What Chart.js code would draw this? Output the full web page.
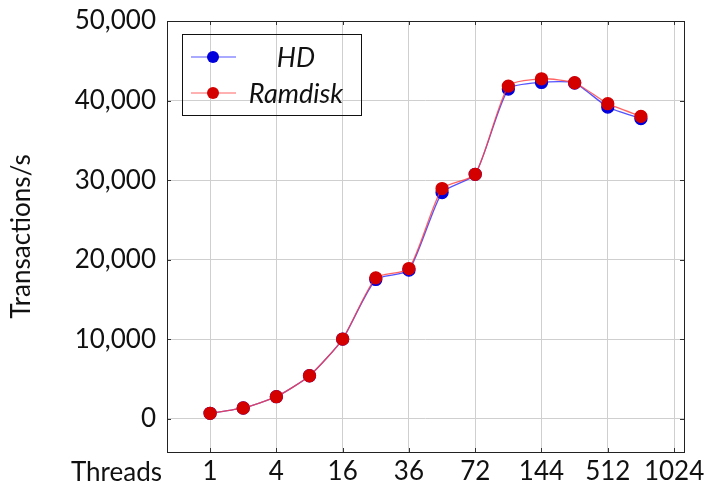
<!DOCTYPE html>
<html>
<head>
<meta charset="utf-8">
<script src="https://cdn.jsdelivr.net/npm/chart.js@4.4.0/dist/chart.umd.min.js"></script>
<style>
  html, body { margin: 0; padding: 0; background: #fff; }
  #wrap { width: 706px; height: 485px; }
</style>
</head>
<body>
<div id="wrap"><canvas id="chart"></canvas></div>
<script>
// point positions along the x axis (index), labels only on every other one
const pointPos = [0, 1, 2, 3, 4, 5, 6, 7, 8, 9, 10, 11, 12, 13];
const tickPos = [0, 2, 4, 6, 8, 10, 12, 14];
const tickLabels = ["1", "4", "16", "36", "72", "144", "512", "1024"];
const yTicks = [0, 10000, 20000, 30000, 40000, 50000];

const hdValues = [710, 1380, 2800, 5430, 10040, 17530, 18700, 28450, 30740, 41450, 42280, 42200, 39190, 37730];
const ramdiskValues = [710, 1380, 2800, 5430, 10040, 17730, 18900, 28950, 30740, 41820, 42740, 42240, 39610, 38020];

const FONT = "Lato";

function toPoints(vals) {
  return pointPos.map((p, i) => ({ x: p, y: vals[i] }));
}

// frame, inner tick marks, "Threads" label and the legend box
const extras = {
  id: "extras",
  afterDraw(chart) {
    const { ctx, chartArea: a, scales } = chart;
    const x = scales.x, y = scales.y;
    ctx.save();
    ctx.strokeStyle = "#333";
    ctx.lineWidth = 1;
    ctx.beginPath();
    tickPos.forEach(p => {
      const px = Math.round(x.getPixelForValue(p)) + 0.5;
      ctx.moveTo(px, a.top); ctx.lineTo(px, a.top + 4);
      ctx.moveTo(px, a.bottom); ctx.lineTo(px, a.bottom - 4);
    });
    yTicks.forEach(v => {
      const py = Math.round(y.getPixelForValue(v)) + 0.5;
      ctx.moveTo(a.left, py); ctx.lineTo(a.left + 4, py);
      ctx.moveTo(a.right, py); ctx.lineTo(a.right - 4, py);
    });
    ctx.stroke();
    ctx.strokeStyle = "#222";
    ctx.strokeRect(Math.round(a.left) + 0.5, Math.round(a.top) + 0.5,
      Math.round(a.right - a.left), Math.round(a.bottom - a.top));

    // Threads label beside the tick labels
    ctx.fillStyle = "#111";
    ctx.font = "26px " + FONT;
    ctx.textAlign = "right";
    ctx.textBaseline = "alphabetic";
    ctx.fillText("Threads", a.left - 5, 481);

    // legend
    ctx.strokeStyle = "#111";
    ctx.strokeRect(182.5, 34.5, 179, 81);
    const rows = [
      { label: "HD", line: "rgba(40,40,255,0.8)", fill: "#0000dd", yy: 57 },
      { label: "Ramdisk", line: "rgba(255,60,60,0.8)", fill: "#d40000", yy: 93 }
    ];
    rows.forEach(r => {
      ctx.strokeStyle = r.line;
      ctx.lineWidth = 1.2;
      ctx.beginPath();
      ctx.moveTo(191, r.yy); ctx.lineTo(236, r.yy);
      ctx.stroke();
      ctx.fillStyle = r.fill;
      ctx.beginPath();
      ctx.arc(213, r.yy, 6, 0, Math.PI * 2);
      ctx.fill();
      ctx.fillStyle = "#111";
      ctx.font = "italic 27px " + FONT;
      ctx.textAlign = "center";
      ctx.textBaseline = "middle";
      ctx.fillText(r.label, 296, r.yy + 1);
    });
    ctx.restore();
  }
};

new Chart(document.getElementById("chart"), {
  type: "line",
  data: {
    datasets: [
      {
        label: "Ramdisk",
        data: toPoints(ramdiskValues),
        borderColor: "rgba(255,60,60,0.8)",
        backgroundColor: "#d40000",
        pointBackgroundColor: "#d40000",
        pointBorderColor: "#d40000",
        borderWidth: 1.3,
        pointRadius: 6,
        tension: 0.2,
        order: 0
      },
      {
        label: "HD",
        data: toPoints(hdValues),
        borderColor: "rgba(40,40,255,0.8)",
        backgroundColor: "#0000dd",
        pointBackgroundColor: "#0000dd",
        pointBorderColor: "#0000dd",
        borderWidth: 1.3,
        pointRadius: 6,
        tension: 0.2,
        order: 1
      }
    ]
  },
  options: {
    responsive: true,
    maintainAspectRatio: false,
    animation: false,
    layout: { padding: { top: 21, right: 22, left: 0, bottom: 0 } },
    plugins: {
      legend: { display: false },
      tooltip: { enabled: false }
    },
    scales: {
      x: {
        type: "linear",
        min: -1.3,
        max: 14.3,
        afterBuildTicks: s => { s.ticks = tickPos.map(v => ({ value: v })); },
        afterFit: s => { s.height = 33; s.paddingLeft = 0; s.paddingRight = 0; },
        grid: { color: "#cfcfcf", drawTicks: false },
        border: { display: false },
        ticks: {
          padding: 4,
          color: "#111",
          font: { family: FONT, size: 26 },
          maxRotation: 0,
          callback: v => tickLabels[tickPos.indexOf(v)]
        }
      },
      y: {
        type: "linear",
        min: -4150,
        max: 50000,
        afterBuildTicks: s => { s.ticks = yTicks.map(v => ({ value: v })); },
        afterFit: s => { s.width = 167; s.paddingTop = 0; s.paddingBottom = 0; },
        grid: { color: "#cfcfcf", drawTicks: false },
        border: { display: false },
        title: {
          display: true,
          text: "Transactions/s",
          color: "#111",
          font: { family: FONT, size: 26 },
          padding: { top: 6, bottom: 0 }
        },
        ticks: {
          padding: 11,
          color: "#111",
          font: { family: FONT, size: 26 },
          callback: v => v.toLocaleString("en-US")
        }
      }
    }
  },
  plugins: [extras]
});
</script>
</body>
</html>
